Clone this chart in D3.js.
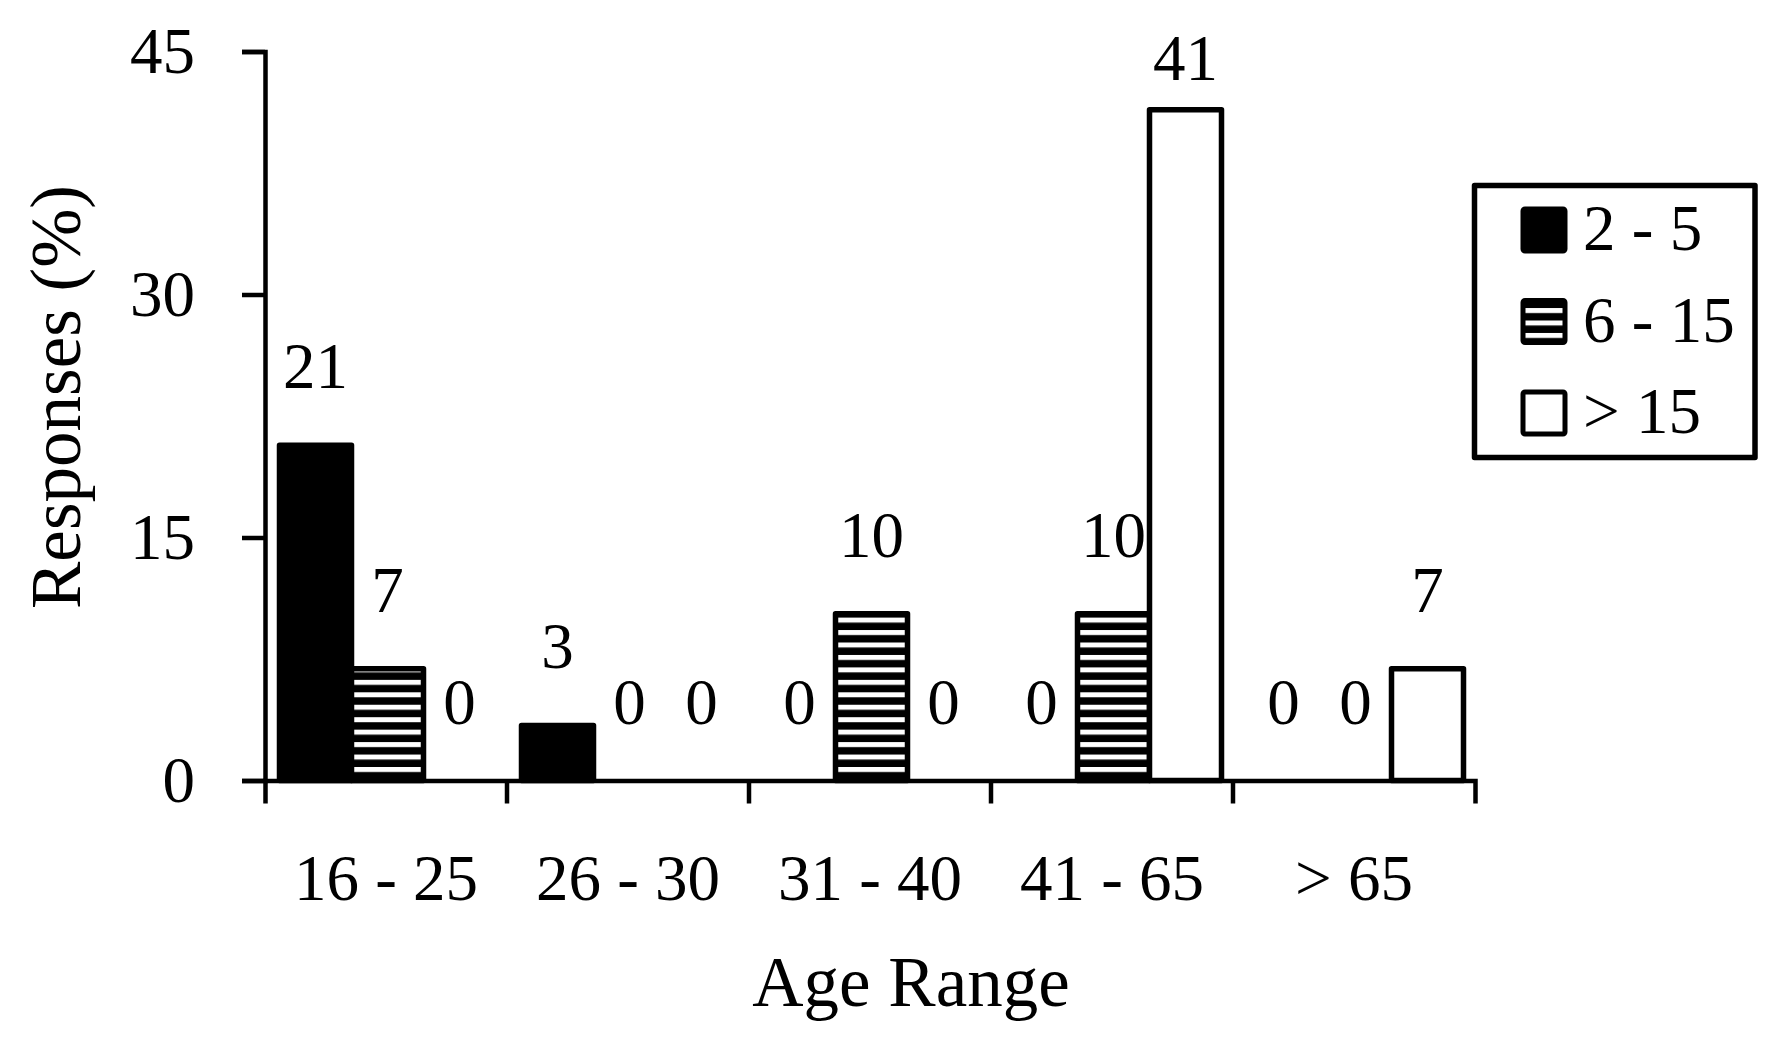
<!DOCTYPE html>
<html>
<head>
  <meta charset="utf-8">
  <title>Responses by age range</title>
  <script src="https://d3js.org/d3.v7.min.js"></script>
  <style>
    body { margin: 0; background: #fff; overflow: hidden; }
    text { font-family: "Liberation Serif", "Times New Roman", serif; fill: #000; }
  </style>
</head>
<body>
<svg width="1784" height="1042"></svg>
<script>
// --- data (percent of responses) ---
const ageRanges = ["16 - 25", "26 - 30", "31 - 40", "41 - 65", "> 65"];
const seriesNames = ["2 - 5", "6 - 15", "> 15"];
const vals2to5 = [20.7, 3.4, 0, 0, 0];
const vals6to15 = [6.9, 0, 10.3, 10.3, 0];
const valsOver15 = [0, 0, 0, 41.4, 6.9];
const yTicks = [0, 15, 30, 45];

const seriesVals = [vals2to5, vals6to15, valsOver15];
const rows = [];
ageRanges.forEach((a, i) => {
  seriesNames.forEach((s, j) => rows.push({ age: a, series: s, value: seriesVals[j][i] }));
});

const svg = d3.select("svg");
const fontSize = 65;

const x0 = d3.scaleBand().domain(ageRanges).range([265, 1475]);
const x1 = d3.scaleBand().domain(seriesNames).range([14.5, x0.bandwidth() - 11.5]);
const y = d3.scaleLinear().domain([0, 45]).range([780.5, 51.5]);

// stripe pattern for the middle series
const defs = svg.append("defs");
const pat = defs.append("pattern").attr("id", "stripes")
  .attr("patternUnits", "userSpaceOnUse")
  .attr("x", 0).attr("y", y(0) - 13.5)
  .attr("width", 20).attr("height", 12.45);
pat.append("rect").attr("width", 20).attr("height", 12.45).attr("fill", "#fff");
pat.append("rect").attr("y", 5).attr("width", 20).attr("height", 7.45).attr("fill", "#000");

const fillOf = d3.scaleOrdinal().domain(seriesNames).range(["#000", "url(#stripes)", "#fff"]);

// bars
svg.append("g").selectAll("rect").data(rows).join("rect")
  .attr("x", d => x0(d.age) + x1(d.series))
  .attr("y", d => y(d.value))
  .attr("width", x1.bandwidth())
  .attr("height", d => y(0) - y(d.value))
  .attr("fill", d => fillOf(d.series))
  .attr("stroke", "#000")
  .attr("stroke-width", 5.5)
  .attr("stroke-linejoin", "round");

// value labels (kept inside the picture at the top)
svg.append("g").selectAll("text").data(rows).join("text")
  .attr("x", d => x0(d.age) + x1(d.series) + x1.bandwidth() / 2)
  .attr("y", d => Math.max(y(d.value) - 57, 80))
  .attr("text-anchor", "middle")
  .attr("font-size", fontSize)
  .text(d => d3.format(".0f")(d.value));

// y axis
const yAxis = svg.append("g").attr("transform", `translate(${x0.range()[0]},0)`)
  .call(d3.axisLeft(y).tickValues(yTicks).tickSize(23).tickPadding(47));
yAxis.select(".domain").attr("stroke-width", 4.5);
yAxis.selectAll(".tick line").attr("stroke-width", 4.5);
yAxis.selectAll("text").attr("font-size", fontSize).attr("font-family", null);

// x axis: line + end ticks from the axis, inner ticks at band edges
const xAxis = svg.append("g").attr("transform", `translate(0,${y(0)})`)
  .call(d3.axisBottom(x0).tickSizeInner(0).tickSizeOuter(23));
xAxis.select(".domain").attr("stroke-width", 4.5);
xAxis.selectAll("text").attr("font-size", fontSize).attr("font-family", null)
  .attr("y", 119).attr("dy", null);
xAxis.selectAll(".edge").data(ageRanges.slice(1)).join("line")
  .attr("class", "edge")
  .attr("x1", d => x0(d)).attr("x2", d => x0(d))
  .attr("y1", 0).attr("y2", 23)
  .attr("stroke", "#000").attr("stroke-width", 4.5);

// axis titles
svg.append("text")
  .attr("transform", "translate(80,397) rotate(-90)")
  .attr("text-anchor", "middle")
  .attr("font-size", 71)
  .text("Responses (%)");
svg.append("text")
  .attr("x", 911).attr("y", 1006)
  .attr("text-anchor", "middle")
  .attr("font-size", 71)
  .text("Age Range");

// legend
const legend = svg.append("g");
legend.append("rect")
  .attr("x", 1474.5).attr("y", 185.5).attr("width", 280.5).attr("height", 272)
  .attr("fill", "#fff").attr("stroke", "#000").attr("stroke-width", 5.5)
  .attr("stroke-linejoin", "round");
const item = legend.selectAll(".item").data(seriesNames).join("g")
  .attr("class", "item")
  .attr("transform", (d, i) => `translate(1523,${209 + i * 91.5})`);
item.append("rect")
  .attr("width", 42).attr("height", 42).attr("rx", 2)
  .attr("fill", d => fillOf(d))
  .attr("stroke", "#000").attr("stroke-width", 5)
  .attr("stroke-linejoin", "round");
item.append("text")
  .attr("x", 60).attr("y", 41)
  .attr("font-size", fontSize)
  .text(d => d);
</script>
</body>
</html>
